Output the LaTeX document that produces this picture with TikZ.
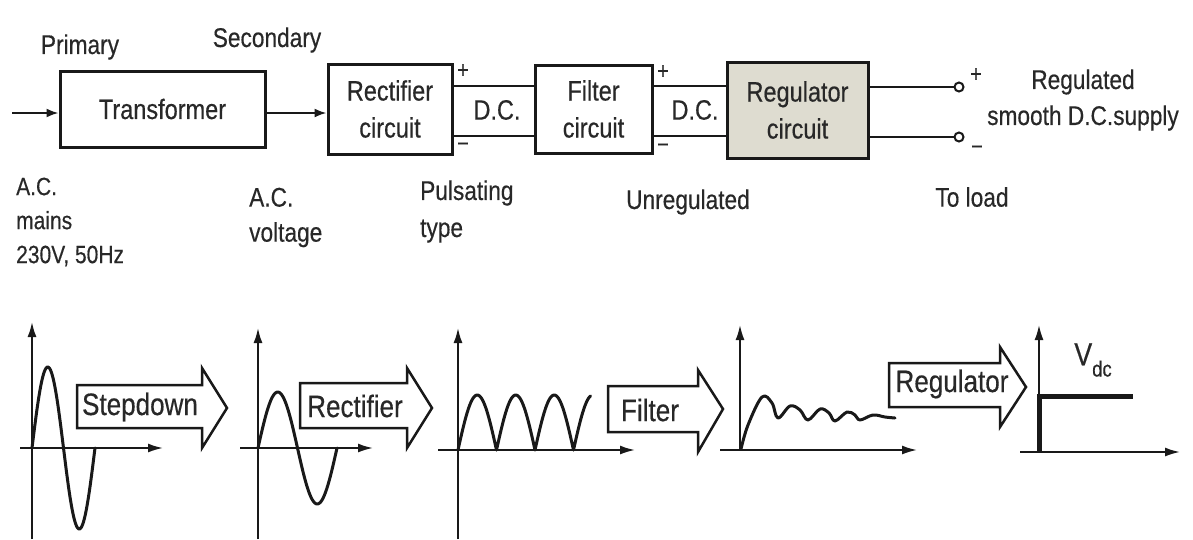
\documentclass[tikz,border=0pt]{standalone}
\usepackage{fontspec}
\setmainfont{Liberation Sans}[FakeStretch=0.84, FakeBold=0.4]
\usetikzlibrary{arrows.meta}
\definecolor{regfill}{RGB}{222,220,208}
\definecolor{ink}{RGB}{25,25,25}
\definecolor{txt}{RGB}{40,40,40}
\newcommand\boxfont{\fontsize{28}{37}\selectfont}
\newcommand\lblfont{\fontsize{27}{35}\selectfont}
\newcommand\arrfont{\fontsize{31}{35}\selectfont}
\newcommand\pmfont{\fontsize{24}{24}\selectfont}
\begin{document}
\begin{tikzpicture}[x=1pt,y=-1pt,
  box/.style={draw=ink, line width=3pt, align=center, inner sep=0pt, font=\boxfont, text=txt},
  lbl/.style={inner sep=0pt, font=\lblfont, text=txt},
  pm/.style={inner sep=0pt, font=\pmfont, text=txt},
  wire/.style={draw=ink, line width=2pt},
  flow/.style={wire, -{Latex[length=12pt,width=9pt]}},
  axis/.style={draw=ink, line width=1.8pt, -{Latex[length=15pt,width=9pt]}},
  wave/.style={draw=ink, line width=3pt, line join=round, line cap=round},
  blk/.style={draw=ink, line width=2.5pt, fill=white, line join=miter},
  blktxt/.style={inner sep=0pt, font=\arrfont, text=txt},
  term/.style={circle, draw=ink, line width=2pt, fill=white, minimum size=9pt, inner sep=0pt}
]
\useasboundingbox (0,0) rectangle (1193,539);

% ---- top block diagram ----
\node[box, minimum width=205pt, minimum height=76pt] (tr) at (162.5,109) {Transformer};
\node[box, minimum width=124pt, minimum height=90pt] (rect) at (390,109) {Rectifier\\circuit};
\node[box, minimum width=117pt, minimum height=88pt] (filt) at (593.5,109) {Filter\\circuit};
\node[box, fill=regfill, minimum width=141pt, minimum height=96pt] (reg) at (797.5,110) {Regulator\\circuit};

\coordinate (in) at (12,113);
\coordinate (ya) at (0,86);
\coordinate (yb) at (0,136);
\draw[flow] (in) -- (tr.west |- in);
\draw[flow] (tr.east |- in) -- (rect.west |- in);
\draw[wire] (rect.east |- ya) -- (filt.west |- ya);
\draw[wire] (rect.east |- yb) -- (filt.west |- yb);
\draw[wire] (filt.east |- ya) -- (reg.west |- ya);
\draw[wire] (filt.east |- yb) -- (reg.west |- yb);

\node[term] (tp) at (959,87) {};
\node[term] (tn) at (959,137) {};
\draw[wire] (reg.east |- tp) -- (tp);
\draw[wire] (reg.east |- tn) -- (tn);

\node[pm] (p1) at (463,71) {+};
\node[pm] (m1) at (463,147) {−};
\node[lbl, font=\boxfont] (dc1) at (497,110) {D.C.};
\node[pm] (p2) at (663,72) {+};
\node[pm] (m2) at (663,148) {−};
\node[lbl, font=\boxfont] (dc2) at (695,110) {D.C.};
\node[pm] (p3) at (976,75) {+};
\node[pm] (m3) at (977,150) {−};

\node[lbl] (prim) at (80,47) {Primary};
\node[lbl] (sec) at (267,40) {Secondary};
\node[lbl, anchor=west, align=left, font=\fontsize{25}{34}\selectfont] (mains) at (16,222) {A.C.\\mains\\230V, 50Hz};
\node[lbl, anchor=west, align=left] (acv) at (249,217.5) {A.C.\\voltage};
\node[lbl, anchor=west, align=left, font=\fontsize{27}{37}\selectfont] (puls) at (420,211.5) {Pulsating\\type};
\node[lbl] (unreg) at (688,202) {Unregulated};
\node[lbl] (load) at (972,197) {To load};
\node[lbl] (regd) at (1083,82) {Regulated};
\node[lbl] (smooth) at (1083,118) {smooth D.C.supply};

% ---- waveforms ----
% graph 1
\draw[axis] (32,539) -- (32,322);
\draw[axis] (20,448) -- (163,448);
\draw[wave] plot[domain=0:360, samples=72] ({32+\x/360*63},{448-81*sin(\x)});
% graph 2
\draw[axis] (258,539) -- (258,328);
\draw[axis] (240,448) -- (373,448);
\draw[wave] plot[domain=0:360, samples=72] ({258+\x/360*79},{448-56*sin(\x)});
% graph 3
\draw[axis] (458,539) -- (458,328);
\draw[axis] (438,450) -- (635,450);
\draw[wave] plot[domain=0:620, samples=125] ({458+\x/180*38.5},{450-55*abs(sin(\x))});
% graph 4
\draw[axis] (740,450) -- (740,325);
\draw[axis] (720,450) -- (917,450);
\draw[wave] plot[smooth, tension=0.6] coordinates {(741,449) (748,425) (762,397) (772,403) (778,418) (790,406) (800,410) (808,420) (820,409) (829,413) (835,421) (847,412) (855,415) (860,420) (873,415) (885,417) (895,418)};
% graph 5
\draw[axis] (1039,452) -- (1039,325);
\draw[axis] (1020,452) -- (1180,452);
\draw[ink, line width=5pt] (1039,452) -- (1039,396) -- (1133,396);
\node[inner sep=0pt, text=txt, font=\fontsize{32}{32}\selectfont] (vdc) at (1093,360) {V\raisebox{-0.35em}{\fontsize{22}{22}\selectfont dc}};

% ---- block arrows ----
\draw[blk] (77,385) -- (202,385) -- (202,368) -- (227,408) -- (202,448) -- (202,428) -- (77,428) -- cycle;
\node[blktxt] (t1) at (140,407) {Stepdown};
\draw[blk] (300,383) -- (407,383) -- (407,368) -- (432,408) -- (407,448) -- (407,428) -- (300,428) -- cycle;
\node[blktxt] (t2) at (355,406) {Rectifier};
\draw[blk] (608,386) -- (698,386) -- (698,370) -- (723,409) -- (698,452) -- (698,432) -- (608,432) -- cycle;
\node[blktxt] (t3) at (650,410) {Filter};
\draw[blk] (889,363) -- (1000,363) -- (1000,347) -- (1026,387) -- (1000,427) -- (1000,407) -- (889,407) -- cycle;
\node[blktxt] (t4) at (952,384) {Regulator};
\end{tikzpicture}
\end{document}
